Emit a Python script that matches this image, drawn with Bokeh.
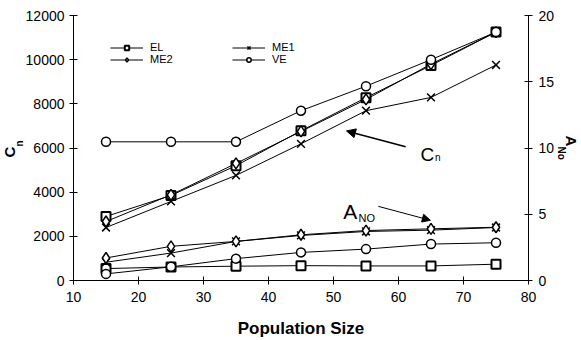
from bokeh.plotting import figure
from bokeh.models import Range1d, LinearAxis, Legend, LegendItem, Label, Arrow, NormalHead, FixedTicker, Title
from bokeh.embed import file_html
from bokeh.resources import INLINE

pop = [15, 25, 35, 45, 55, 65, 75]
# C_n (left axis)
cn_el = [2900, 3850, 5200, 6780, 8280, 9740, 11250]
cn_me1 = [2400, 3580, 4760, 6190, 7690, 8290, 9760]
cn_me2 = [2670, 3880, 5300, 6750, 8200, 9800, 11250]
cn_ve = [6280, 6280, 6280, 7690, 8800, 10000, 11250]
# A_No (right axis)
an_el = [0.9, 1.02, 1.08, 1.12, 1.1, 1.1, 1.23]
an_me1 = [1.38, 2.07, 2.95, 3.4, 3.7, 3.8, 4.0]
an_me2 = [1.7, 2.58, 2.95, 3.45, 3.77, 3.9, 4.02]
an_ve = [0.5, 1.03, 1.65, 2.12, 2.37, 2.75, 2.85]

FONT = "Liberation Sans"

p = figure(width=581, height=340, output_backend="svg", toolbar_location=None,
           x_range=Range1d(10, 80), y_range=Range1d(0, 12000),
           min_border_left=73, min_border_right=53, min_border_top=15, min_border_bottom=58)
p.outline_line_color = None
p.xgrid.visible = False
p.ygrid.visible = False
p.extra_y_ranges = {"ano": Range1d(0, 20)}
p.add_layout(LinearAxis(y_range_name="ano"), "right")

for ax in p.axis:
    ax.axis_line_color = "black"
    ax.major_tick_line_color = "black"
    ax.major_tick_in = 4
    ax.major_tick_out = 4
    ax.minor_tick_line_color = None
    ax.major_label_text_font = FONT
    ax.major_label_text_font_size = "14px"
    ax.major_label_text_color = "black"
p.xaxis.ticker = FixedTicker(ticks=[10, 20, 30, 40, 50, 60, 70, 80])
p.yaxis[0].ticker = FixedTicker(ticks=list(range(0, 12001, 2000)))
p.yaxis[1].ticker = FixedTicker(ticks=[0, 5, 10, 15, 20])
p.yaxis[0].major_label_standoff = 5
p.yaxis[1].major_label_standoff = 6
p.xaxis.major_label_standoff = 7
p.xaxis.axis_label = "Population Size"
p.xaxis.axis_label_text_font = FONT
p.xaxis.axis_label_text_font_style = "bold"
p.xaxis.axis_label_text_font_size = "17px"
p.xaxis.axis_label_text_color = "black"
p.xaxis.axis_label_standoff = 14

series = [
    ("EL", cn_el, an_el, "square", 9, 2),
    ("ME1", cn_me1, an_me1, "x", 11, 1.5),
    ("ME2", cn_me2, an_me2, "diamond", 11, 1.5),
    ("VE", cn_ve, an_ve, "circle", 9, 1.5),
]
items = {}
for name, cn, an, marker, size, lw in series:
    r1 = p.line(pop, cn, line_color="black", line_width=1)
    r2 = p.scatter(pop, cn, marker=marker, size=size, fill_color="white", line_color="black", line_width=lw)
    r3 = p.line(pop, an, line_color="black", line_width=1, y_range_name="ano")
    r4 = p.scatter(pop, an, marker=marker, size=size, fill_color="white", line_color="black",
                   line_width=lw, y_range_name="ano")
    items[name] = [r1, r2]

legend = Legend(items=[LegendItem(label=n, renderers=items[n]) for n in ["EL", "ME2", "ME1", "VE"]],
                ncols=2, location=(37, 215), background_fill_alpha=0, border_line_color=None,
                label_text_font=FONT, label_text_font_size="11px", label_text_color="black",
                glyph_width=33, glyph_height=11,
                label_standoff=7, spacing=0, padding=0, margin=0, label_height=11, label_width=82,
                label_text_line_height=1.0)
p.add_layout(legend, "center")

# In-plot annotation texts and arrows
p.add_layout(Label(x=63.4, y=5700, text="C", text_font=FONT, text_font_size="19px",
                   text_color="black", text_baseline="alphabetic"))
p.add_layout(Label(x=65.6, y=5560, text="n", text_font=FONT, text_font_size="10px",
                   text_color="black", text_baseline="alphabetic"))
p.add_layout(Arrow(end=NormalHead(size=9, fill_color="black", line_color="black"),
                   x_start=61.1, y_start=6054, x_end=52.0, y_end=6773, line_width=1.5))
p.add_layout(Label(x=51.5, y=3133, text="A", text_font=FONT, text_font_size="21px",
                   text_color="black", text_baseline="alphabetic"))
p.add_layout(Label(x=53.85, y=2818, text="NO", text_font=FONT, text_font_size="11px",
                   text_color="black", text_baseline="alphabetic"))
p.add_layout(Arrow(end=NormalHead(size=8, fill_color="black", line_color="black"),
                   x_start=56.9, y_start=3357, x_end=64.9, y_end=2728, line_width=1))

# Axis titles as side-panel titles (C with subscript n; A with subscript No)
def side_title(text, size, offset, standoff):
    return Title(text=text, text_font=FONT, text_font_style="bold", text_font_size=size,
                 text_color="black", align="left", offset=offset, standoff=standoff,
                 vertical_align="middle")

p.add_layout(side_title("n", "10px", 134, -6), "left")
p.add_layout(side_title("C", "15px", 123, -6), "left")
p.add_layout(side_title("No", "10px", 131, -5), "right")
p.add_layout(side_title("A", "15px", 120, -7), "right")

open("out.html", "w").write(file_html(p, INLINE))
